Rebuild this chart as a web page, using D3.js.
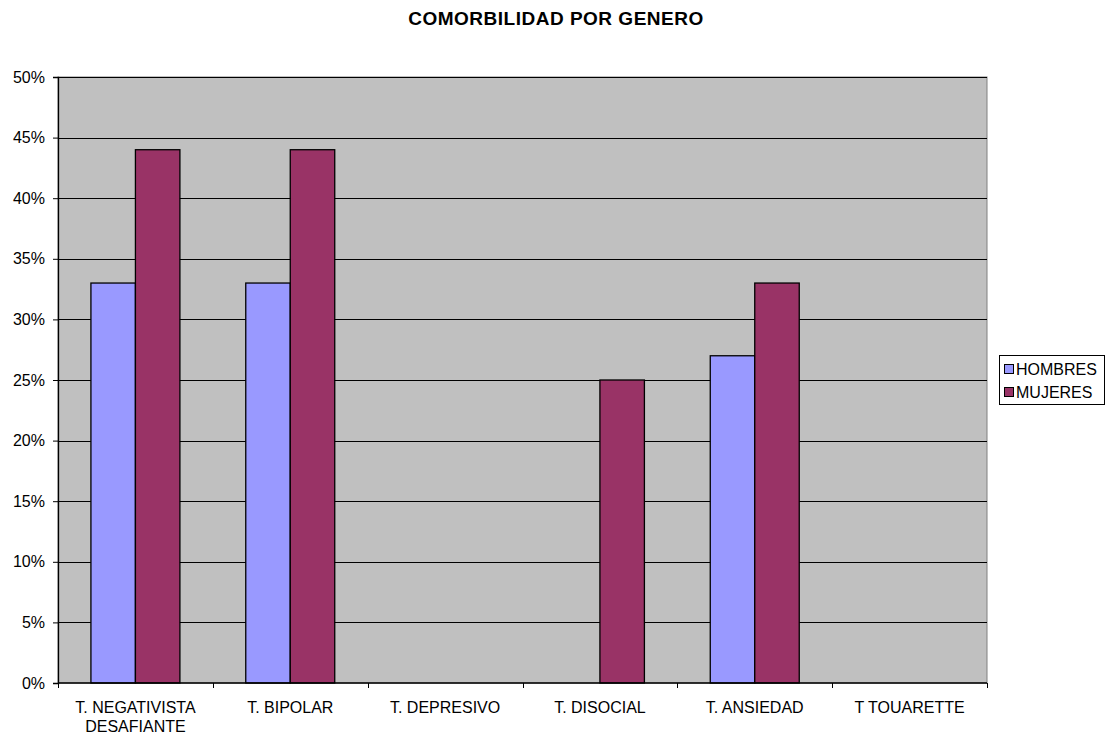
<!DOCTYPE html>
<html>
<head>
<meta charset="utf-8">
<script src="https://cdn.jsdelivr.net/npm/d3@7"></script>
<style>
  body { margin: 0; background: #fff; }
  text { font-family: "Liberation Sans", Arial, sans-serif; }
</style>
</head>
<body>
<svg id="chart" width="1112" height="736"></svg>
<script>
const categories = [
  ["T. NEGATIVISTA", "DESAFIANTE"],
  ["T. BIPOLAR"],
  ["T. DEPRESIVO"],
  ["T. DISOCIAL"],
  ["T. ANSIEDAD"],
  ["T TOUARETTE"],
];
const seriesNames = ["HOMBRES", "MUJERES"];
const hombres = [0.33, 0.33, 0, 0, 0.27, 0];
const mujeres = [0.44, 0.44, 0, 0.25, 0.33, 0];
const yTicks = [0, 0.05, 0.1, 0.15, 0.2, 0.25, 0.3, 0.35, 0.4, 0.45, 0.5];
const colours = ["#9999FF", "#993366"];

const plot = { left: 58, right: 987, top: 77, bottom: 683 };
const svg = d3.select("#chart");

const xScale = d3
  .scaleBand()
  .domain(d3.range(categories.length))
  .range([plot.left, plot.right]);
// gap width 150% -> inner group of 2 bars
const barW = xScale.bandwidth() / 3.48;
const xInner = d3
  .scaleBand()
  .domain(seriesNames)
  .range([0, barW * 2]);
const yScale = d3.scaleLinear().domain([0, 0.5]).range([plot.bottom, plot.top]);

// title
svg
  .append("text")
  .attr("x", 556)
  .attr("y", 25)
  .attr("text-anchor", "middle")
  .attr("font-size", 19)
  .attr("font-weight", "bold")
  .attr("letter-spacing", 0.5)
  .text("COMORBILIDAD POR GENERO");

// plot background
svg
  .append("rect")
  .attr("x", plot.left)
  .attr("y", plot.top)
  .attr("width", plot.right - plot.left)
  .attr("height", plot.bottom - plot.top)
  .attr("fill", "#C0C0C0")
  .attr("stroke", "#808080")
  .attr("stroke-width", 1);

// gridlines
svg
  .append("g")
  .selectAll("line")
  .data(yTicks.slice(1))
  .enter()
  .append("line")
  .attr("x1", plot.left)
  .attr("x2", plot.right)
  .attr("y1", (d) => Math.round(yScale(d)) + 0.5)
  .attr("y2", (d) => Math.round(yScale(d)) + 0.5)
  .attr("stroke", "#000")
  .attr("stroke-width", 1);

// bars
const data = [];
categories.forEach((c, i) => {
  data.push({ i, s: "HOMBRES", v: hombres[i], c: colours[0] });
  data.push({ i, s: "MUJERES", v: mujeres[i], c: colours[1] });
});
const groupOffset = (xScale.bandwidth() - barW * 2) / 2;
svg
  .append("g")
  .selectAll("rect")
  .data(data.filter((d) => d.v > 0))
  .enter()
  .append("rect")
  .attr("x", (d) => xScale(d.i) + groupOffset + xInner(d.s))
  .attr("y", (d) => yScale(d.v))
  .attr("width", xInner.bandwidth())
  .attr("height", (d) => plot.bottom - yScale(d.v))
  .attr("fill", (d) => d.c)
  .attr("stroke", "#000")
  .attr("stroke-width", 1.3);

// y axis
const yAxis = svg
  .append("g")
  .attr("transform", `translate(${plot.left},0)`)
  .call(
    d3
      .axisLeft(yScale)
      .tickValues(yTicks)
      .tickFormat(d3.format(".0%"))
      .tickSize(5)
      .tickPadding(8)
  );
yAxis.select(".domain").attr("stroke", "#000").attr("stroke-width", 1.3);
yAxis.selectAll("text").attr("font-size", 16).attr("fill", "#000")
  .style("font-family", "'Liberation Sans', Arial, sans-serif");

// x axis
const xAxis = svg
  .append("g")
  .attr("transform", `translate(0,${plot.bottom})`);
xAxis
  .append("line")
  .attr("x1", plot.left)
  .attr("x2", plot.right)
  .attr("y1", 0)
  .attr("y2", 0)
  .attr("stroke", "#000")
  .attr("stroke-width", 1.3);
xAxis
  .selectAll(".tick")
  .data(d3.range(categories.length + 1))
  .enter()
  .append("line")
  .attr("x1", (d) => Math.round(plot.left + d * xScale.step()) + 0.5)
  .attr("x2", (d) => Math.round(plot.left + d * xScale.step()) + 0.5)
  .attr("y1", 0)
  .attr("y2", 5)
  .attr("stroke", "#000");
const labels = xAxis
  .selectAll(".lbl")
  .data(categories)
  .enter()
  .append("text")
  .attr("text-anchor", "middle")
  .attr("font-size", 16)
  .attr("transform", (d, i) => `translate(${xScale(i) + xScale.bandwidth() / 2},0)`);
labels
  .selectAll("tspan")
  .data((d) => d)
  .enter()
  .append("tspan")
  .attr("x", 0)
  .attr("y", (d, j) => 30 + j * 19)
  .text((d) => d);

// legend
const legend = svg.append("g").attr("transform", "translate(999,355)");
legend
  .append("rect")
  .attr("x", 0.5)
  .attr("y", 0.5)
  .attr("width", 105)
  .attr("height", 49)
  .attr("fill", "#fff")
  .attr("stroke", "#000");
const items = legend
  .selectAll(".item")
  .data(seriesNames)
  .enter()
  .append("g")
  .attr("transform", (d, i) => `translate(0,${14 + i * 23})`);
items
  .append("rect")
  .attr("x", 5.5)
  .attr("y", -4.5)
  .attr("width", 9)
  .attr("height", 9)
  .attr("fill", (d, i) => colours[i])
  .attr("stroke", "#000");
items
  .append("text")
  .attr("x", 17)
  .attr("y", 6)
  .attr("font-size", 16)
  .text((d) => d);
</script>
</body>
</html>
